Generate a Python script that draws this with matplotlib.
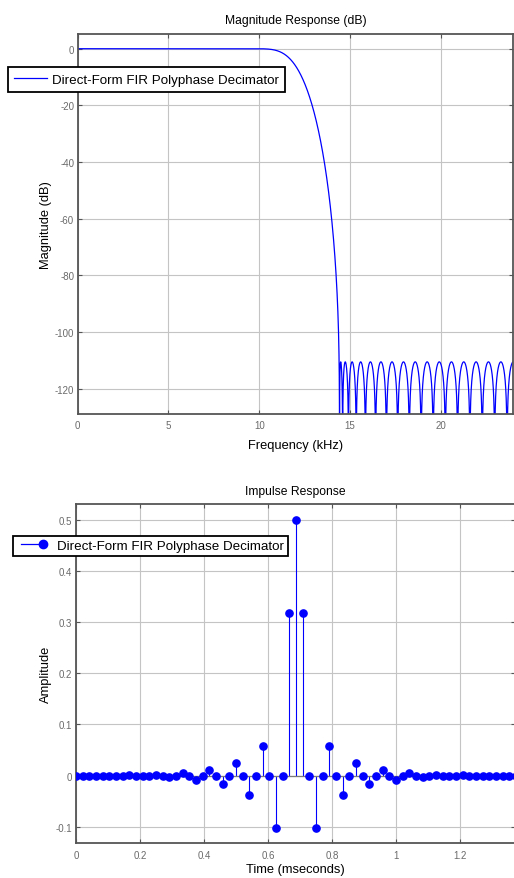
import numpy as np
import matplotlib
matplotlib.use("Agg")
import matplotlib.pyplot as plt
from matplotlib.lines import Line2D
from matplotlib.legend_handler import HandlerLine2D

# ---------------- data ----------------
sample_rate_khz = 48.0
# impulse response of the 67-tap halfband decimator (symmetric)
impulse = [
    0.0000111279, 0.0, -0.0000427768, 0.0, 0.0001195941, 0.0, -0.0002786290, 0.0,
    0.0005749847, 0.0, -0.0010853256, 0.0, 0.0019114608, 0.0, -0.0031845302, 0.0,
    0.0050718562, 0.0, -0.0077912091, 0.0, 0.0116431340, 0.0, -0.0170868642, 0.0,
    0.0249291766, 0.0, -0.0368513935, 0.0, 0.0572164195, 0.0, -0.1021155115, 0.0,
    0.3169599788, 0.5, 0.3169599788,
    0.0, -0.1021155115, 0.0, 0.0572164195, 0.0, -0.0368513935, 0.0, 0.0249291766,
    0.0, -0.0170868642, 0.0, 0.0116431340, 0.0, -0.0077912091, 0.0, 0.0050718562,
    0.0, -0.0031845302, 0.0, 0.0019114608, 0.0, -0.0010853256, 0.0, 0.0005749847,
    0.0, -0.0002786290, 0.0, 0.0001195941, 0.0, -0.0000427768, 0.0, 0.0000111279,
]
legend_label = "Direct-Form FIR Polyphase Decimator"
mag_xticks = [0, 5, 10, 15, 20]
mag_yticks = [0, -20, -40, -60, -80, -100, -120]
imp_xticks = [0, 0.2, 0.4, 0.6, 0.8, 1.0, 1.2]
imp_xticklabels = ["0", "0.2", "0.4", "0.6", "0.8", "1", "1.2"]
imp_yticks = [-0.1, 0, 0.1, 0.2, 0.3, 0.4, 0.5]
imp_yticklabels = ["-0.1", "0", "0.1", "0.2", "0.3", "0.4", "0.5"]

h = np.asarray(impulse)
nfft = 16384
H = np.fft.rfft(h, nfft)
freq_khz = np.fft.rfftfreq(nfft, d=1.0 / sample_rate_khz)
mag_db = 20 * np.log10(np.maximum(np.abs(H), 1e-15))
time_ms = np.arange(len(h)) / sample_rate_khz

# ---------------- style ----------------
plt.rcParams["font.family"] = ["Liberation Sans", "DejaVu Sans"]
plt.rcParams["axes.unicode_minus"] = False
W, Hpx = 514, 879
fig = plt.figure(figsize=(W / 100, Hpx / 100), dpi=100)
fig.patch.set_facecolor("white")

spine_c = "#555555"
tick_lab_c = "#6a6a6a"
grid_c = "#c4c4c4"
blue = "#0000ff"


def style(ax):
    for s in ax.spines.values():
        s.set_color(spine_c)
        s.set_linewidth(1.3)
    ax.tick_params(direction="in", length=3, width=0.8, color=spine_c,
                   top=True, right=True, labelsize=7, labelcolor=tick_lab_c)
    ax.tick_params(axis="x", pad=4.5)
    ax.tick_params(axis="y", pad=2.6)
    ax.grid(True, color=grid_c, linewidth=0.8)
    ax.set_axisbelow(True)


class StemLegendHandler(HandlerLine2D):
    def create_artists(self, legend, orig_handle, xdescent, ydescent,
                       width, height, fontsize, trans):
        y = (height - ydescent) / 2
        x0 = -xdescent + 3
        x1 = -xdescent + width
        line = Line2D([x0, x1], [y, y], color=orig_handle.get_color(),
                      linewidth=orig_handle.get_linewidth())
        mk = Line2D([x1], [y], color=orig_handle.get_color(), marker="o",
                    markersize=orig_handle.get_markersize(), linestyle="none")
        line.set_transform(trans)
        mk.set_transform(trans)
        return [line, mk]


# ---------------- magnitude response ----------------
ax1 = fig.add_axes([77.7 / W, 1 - 415 / Hpx, 435.6 / W, 380.3 / Hpx])
style(ax1)
ax1.plot(freq_khz, mag_db, color=blue, linewidth=0.9, label=legend_label)
ax1.set_xlim(0, 24)
ax1.set_ylim(-128.9, 5.3)
ax1.set_xticks(mag_xticks)
ax1.set_yticks(mag_yticks)
ax1.set_title("Magnitude Response (dB)", fontsize=8.7, pad=8)
ax1.set_xlabel("Frequency (kHz)", fontsize=9.3)
ax1.set_ylabel("Magnitude (dB)", fontsize=9.3)
ax1.xaxis.set_label_coords(0.5, -0.0657)
ax1.yaxis.set_label_coords(-0.059, 0.5)
leg1 = ax1.legend(loc="upper left", bbox_to_anchor=(8.3 / W, 1 - 68.3 / Hpx),
                  bbox_transform=fig.transFigure, borderaxespad=0,
                  fontsize=9.6, fancybox=False, framealpha=1,
                  borderpad=0.45, handlelength=2.43, handletextpad=0.4)
leg1.get_frame().set_edgecolor("black")
leg1.get_frame().set_linewidth(1.3)

# ---------------- impulse response ----------------
ax2 = fig.add_axes([76 / W, 1 - 844.3 / Hpx, 439 / W, 339.6 / Hpx])
style(ax2)
ml, sl, bl = ax2.stem(time_ms, h, linefmt="-", markerfmt="o", basefmt="-")
plt.setp(sl, color=blue, linewidth=0.8)
plt.setp(ml, color=blue, markersize=5.2, zorder=4)
plt.setp(bl, color="#7a7a7a", linewidth=0.9)
ax2.set_xlim(0, 439 / 320)
ax2.set_ylim(-0.132, 0.531)
ax2.set_xticks(imp_xticks)
ax2.set_xticklabels(imp_xticklabels)
ax2.set_yticks(imp_yticks)
ax2.set_yticklabels(imp_yticklabels)
ax2.set_title("Impulse Response", fontsize=8.7, pad=7)
ax2.set_xlabel("Time (mseconds)", fontsize=9.3)
ax2.set_ylabel("Amplitude", fontsize=9.3)
ax2.xaxis.set_label_coords(0.5, -0.058)
ax2.yaxis.set_label_coords(-0.055, 0.5)
proxy = Line2D([], [], color=blue, linewidth=0.9, marker="o", markersize=6)
leg2 = ax2.legend([proxy], [legend_label], loc="upper left",
                  bbox_to_anchor=(12.7 / W, 1 - 536.7 / Hpx),
                  bbox_transform=fig.transFigure, borderaxespad=0,
                  fontsize=9.6, fancybox=False, framealpha=1,
                  handler_map={Line2D: StemLegendHandler()},
                  borderpad=0.3, handlelength=1.95, handletextpad=1.05)
leg2.get_frame().set_edgecolor("black")
leg2.get_frame().set_linewidth(1.3)

fig.savefig("out.png", dpi=100)
